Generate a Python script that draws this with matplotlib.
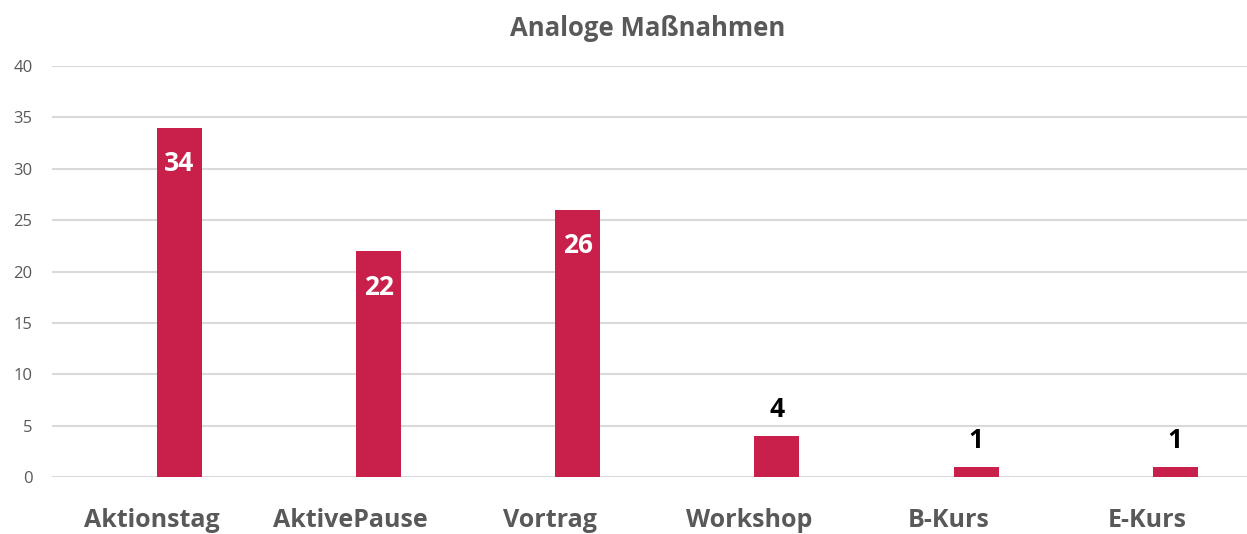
import matplotlib
matplotlib.use("Agg")
import matplotlib.pyplot as plt

categories = ["Aktionstag", "AktivePause", "Vortrag", "Workshop", "B-Kurs", "E-Kurs"]
values = [34, 22, 26, 4, 1, 1]
yticks = [0, 5, 10, 15, 20, 25, 30, 35, 40]
title = "Analoge Maßnahmen"

plt.rcParams['font.family'] = ['Open Sans', 'DejaVu Sans']

fig = plt.figure(figsize=(12.47, 5.34), dpi=100)
ax = fig.add_axes([52/1247, 57/534, 1 - 52/1247, 411/534])

bar_color = "#C8204A"
grey = "#595959"
bar_offset = 0.14  # bar sits right of category centre (Excel cluster slot)
x = list(range(len(categories)))
xb = [xi + bar_offset for xi in x]
ax.bar(xb, values, width=0.226, color=bar_color, zorder=3)

ax.set_xlim(-0.5, 5.5)
ax.set_ylim(0, 40)
ax.set_yticks(yticks)
ax.set_yticklabels([str(t) for t in yticks], fontsize=12, color=grey)
ax.set_xticks(x)
ax.set_xticklabels(categories, fontsize=18, fontweight='bold', color=grey)
ax.tick_params(axis='x', length=0, pad=22)
ax.tick_params(axis='y', length=0, pad=14)
ax.grid(axis='y', color="#D9D9D9", linewidth=1.5, zorder=0)
for s in ax.spines.values():
    s.set_visible(False)

for xi, v in zip(xb, values):
    if v >= 10:
        ax.annotate(str(v), (xi, v), xytext=(0, -26), textcoords='offset points',
                    ha='center', va='center', fontsize=19, fontweight='bold', color='white', zorder=4)
    else:
        ax.annotate(str(v), (xi, v), xytext=(0, 19), textcoords='offset points',
                    ha='center', va='center', fontsize=19, fontweight='bold', color='black', zorder=4)

fig.text(648/1247, 1 - 29/534, title, ha='center', va='center', fontsize=18.5,
         fontweight='bold', color=grey)

fig.savefig("out.png", dpi=100)
